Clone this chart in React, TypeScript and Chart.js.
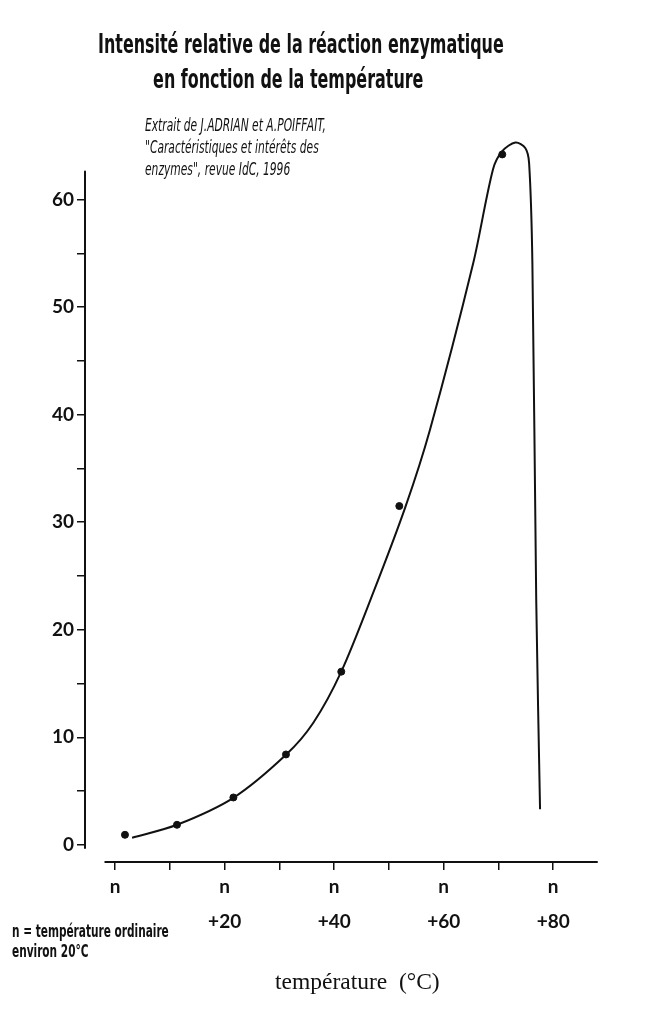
import React, { useEffect, useRef } from "react";
import { Chart, registerables } from "chart.js";

Chart.register(...registerables);

// Temperature offsets (°C above "n") and relative intensity
const curveTemps = [3.1, 11.3, 21.6, 31.2, 36.2, 41.3, 47.1, 53.0, 57.5, 65.4, 69.0, 70.7, 73.1, 74.9, 75.6, 76.2, 76.9, 77.6];
const curveValues = [0.65, 1.86, 4.37, 8.37, 11.35, 16.1, 23.4, 31.4, 38.6, 54.1, 62.8, 64.5, 65.3, 64.8, 63.4, 54.1, 22.8, 3.3];

const pointTemps = [1.8, 11.3, 21.6, 31.2, 41.3, 51.9, 70.7];
const pointValues = [0.93, 1.86, 4.4, 8.4, 16.1, 31.5, 64.2];

const xTickValues = [0, 10, 20, 30, 40, 50, 60, 70, 80];
const xTickLabels: Record<number, string | string[]> = {
  0: "n",
  20: ["n", "+20"],
  40: ["n", "+40"],
  60: ["n", "+60"],
  80: ["n", "+80"],
};
const yTickValues = [0, 5, 10, 15, 20, 25, 30, 35, 40, 45, 50, 55, 60];
const yLabelled = [0, 10, 20, 30, 40, 50, 60];

const titleLines = ["Intensité relative de la réaction enzymatique", "en fonction de la température"];
const sourceLines = ["Extrait de J.ADRIAN et A.POIFFAIT,", "\"Caractéristiques et intérêts des", "enzymes\", revue IdC, 1996"];
const noteLines = ["n = température ordinaire", "environ 20°C"];
const xAxisTitle = "température  (°C)";

const X_MIN = -5.5;
const X_MAX = 88;
const Y_MIN = -1.6;
const Y_MAX = 67.4;

const axisLines = {
  id: "axisLines",
  afterDatasetsDraw(chart: any) {
    const { ctx, chartArea, scales } = chart;
    const x = scales.x;
    const y = scales.y;
    ctx.save();
    ctx.strokeStyle = "#111";
    ctx.lineWidth = 2;
    ctx.lineCap = "round";
    ctx.beginPath();
    ctx.moveTo(chartArea.left, y.getPixelForValue(-0.3));
    ctx.lineTo(chartArea.left, y.getPixelForValue(62.6));
    ctx.moveTo(x.getPixelForValue(-1.8), chartArea.bottom);
    ctx.lineTo(chartArea.right, chartArea.bottom);
    ctx.stroke();
    ctx.restore();
  },
};

const condensed = '"Liberation Sans Narrow", "DejaVu Sans Condensed", "Roboto Condensed", sans-serif';

export default function App() {
  const ref = useRef<HTMLCanvasElement | null>(null);

  useEffect(() => {
    if (!ref.current) return;
    const chart = new Chart(ref.current, {
      type: "line",
      data: {
        datasets: [
          {
            label: "courbe",
            data: curveTemps.map((t, i) => ({ x: t, y: curveValues[i] })),
            borderColor: "#111",
            borderWidth: 2,
            pointRadius: 0,
            tension: 0.3,
            fill: false,
          },
          {
            label: "mesures",
            type: "scatter",
            data: pointTemps.map((t, i) => ({ x: t, y: pointValues[i] })),
            backgroundColor: "#111",
            borderColor: "#111",
            pointRadius: 3.5,
            showLine: false,
          } as any,
        ],
      },
      options: {
        animation: false,
        responsive: false,
        layout: { padding: { left: 0, top: 120, right: 53, bottom: 0 } },
        plugins: { legend: { display: false }, tooltip: { enabled: false }, title: { display: false } },
        scales: {
          x: {
            type: "linear",
            min: X_MIN,
            max: X_MAX,
            afterBuildTicks: (scale: any) => {
              scale.ticks = xTickValues.map((v) => ({ value: v }));
            },
            afterFit: (scale: any) => {
              scale.height = 160;
            },
            border: { display: false },
            grid: {
              display: true,
              drawOnChartArea: false,
              drawTicks: true,
              tickLength: 8,
              color: "#111",
              lineWidth: 1.5,
            },
            ticks: {
              autoSkip: false,
              maxRotation: 0,
              padding: -1,
              color: "#111",
              font: { family: "Lato, 'DejaVu Sans', sans-serif", size: 19, weight: "bold", lineHeight: 1.85 },
              callback: (v: any) => xTickLabels[Number(v)] ?? "",
            },
          },
          y: {
            type: "linear",
            min: Y_MIN,
            max: Y_MAX,
            afterBuildTicks: (scale: any) => {
              scale.ticks = yTickValues.map((v) => ({ value: v }));
            },
            afterFit: (scale: any) => {
              scale.width = 85;
            },
            border: { display: false },
            grid: {
              display: true,
              drawOnChartArea: false,
              drawTicks: true,
              tickLength: 8,
              color: "#111",
              lineWidth: 1.5,
            },
            ticks: {
              autoSkip: false,
              padding: 3,
              color: "#111",
              font: { family: "Lato, 'DejaVu Sans', sans-serif", size: 19, weight: "bold" },
              callback: (v: any) => (yLabelled.includes(Number(v)) ? String(v) : ""),
            },
          },
        },
      },
      plugins: [axisLines],
    });
    return () => chart.destroy();
  }, []);

  return (
    <div style={{ position: "absolute", left: 0, top: 0, width: 650, height: 1022, background: "#fff", overflow: "hidden" }}>
      <canvas ref={ref} width={650} height={1022} style={{ position: "absolute", left: 0, top: 0, width: 650, height: 1022 }} />
      <div style={{ position: "absolute", left: 98, top: 26, fontFamily: condensed, fontWeight: "bold", fontSize: 27, lineHeight: "35px", color: "#111", whiteSpace: "nowrap", transform: "scaleX(0.656)", transformOrigin: "left top" }}>
        <div>{titleLines[0]}</div>
        <div style={{ paddingLeft: 84 }}>{titleLines[1]}</div>
      </div>
      <div style={{ position: "absolute", left: 145, top: 114, fontFamily: condensed, fontStyle: "italic", fontSize: 17, lineHeight: "22px", color: "#111", whiteSpace: "nowrap", transform: "scaleX(0.70)", transformOrigin: "left top" }}>
        {sourceLines.map((l, i) => (
          <div key={i}>{l}</div>
        ))}
      </div>
      <div style={{ position: "absolute", left: 12, top: 921, fontFamily: condensed, fontWeight: "bold", fontSize: 17, lineHeight: "20px", color: "#111", whiteSpace: "nowrap", transform: "scaleX(0.69)", transformOrigin: "left top" }}>
        {noteLines.map((l, i) => (
          <div key={i}>{l}</div>
        ))}
      </div>
      <div style={{ position: "absolute", left: 275, top: 968, fontFamily: '"Liberation Serif", "DejaVu Serif", serif', fontSize: 23.5, color: "#111", whiteSpace: "pre" }}>
        {xAxisTitle}
      </div>
    </div>
  );
}
